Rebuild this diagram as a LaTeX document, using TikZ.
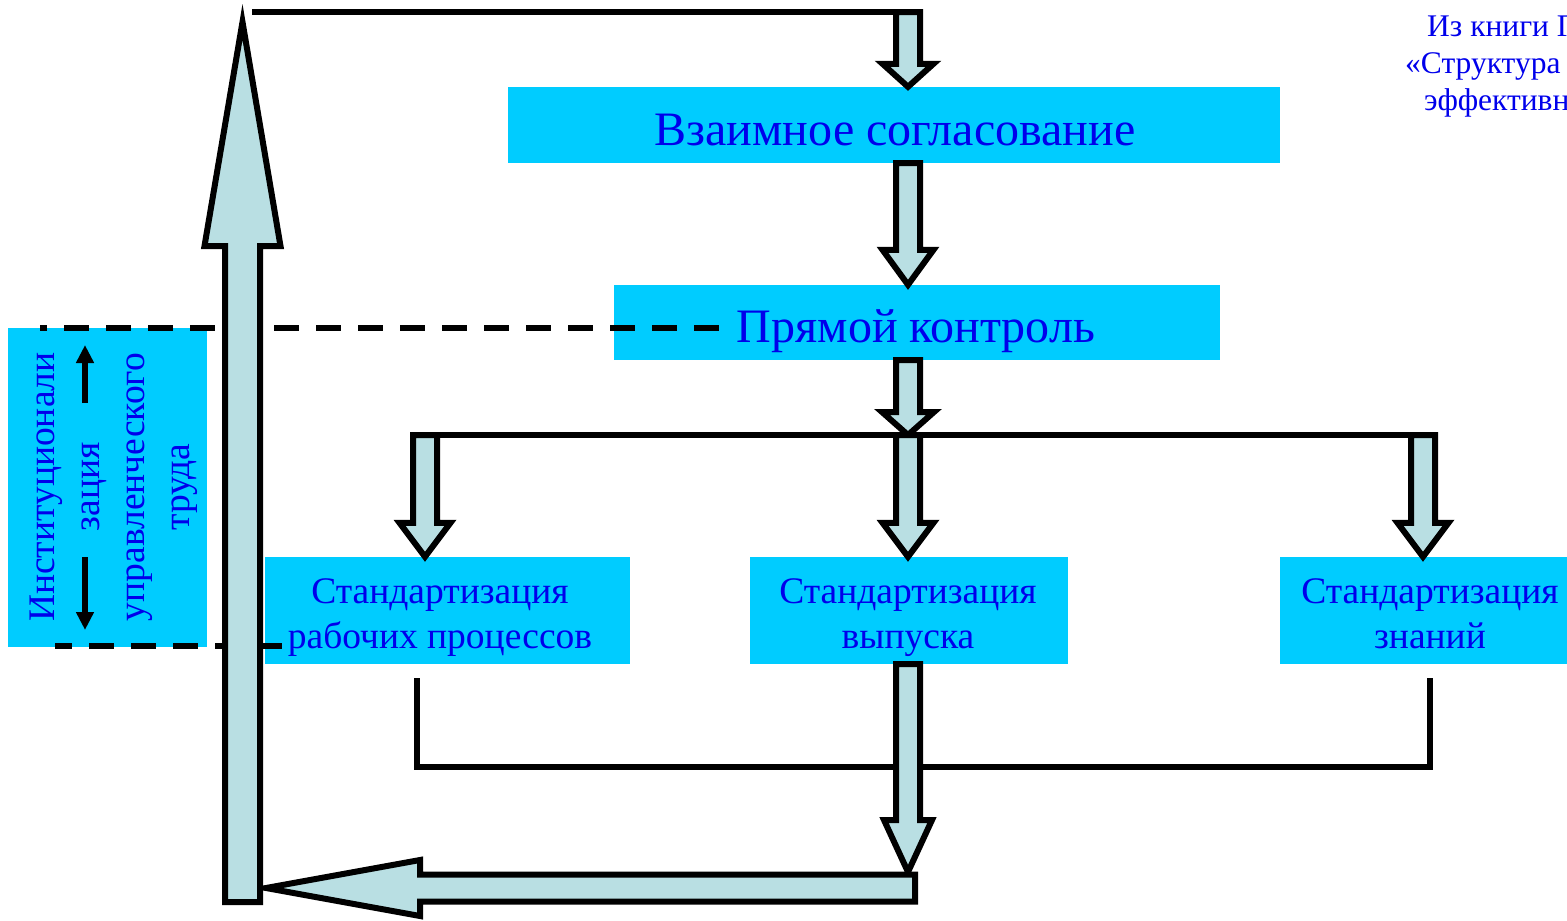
\documentclass[tikz,border=0pt]{standalone}
\usepackage{fontspec}
\setmainfont{Liberation Serif}
\usetikzlibrary{arrows.meta,calc}
\definecolor{boxcyan}{RGB}{0,204,255}
\definecolor{arrfill}{RGB}{185,223,227}
\definecolor{txtblue}{RGB}{0,0,235}
\tikzset{
  cbox/.style={rectangle, fill=boxcyan, inner sep=0pt},
  txt/.style={inner sep=0pt, text=txtblue, align=center, anchor=base},
  bigfont/.style={font=\fontsize{48}{56}\selectfont},
  midfont/.style={font=\fontsize{37.5}{45}\selectfont},
  blockarrow/.style={draw=black, fill=arrfill, line width=6pt, line join=miter},
  bline/.style={line width=6pt},
  dline/.style={line width=5.5pt, dash pattern=on 25pt off 17pt},
  thinarrow/.style={line width=5.5pt, -{Triangle[length=18pt,width=17pt]}},
  srcfont/.style={anchor=base west, inner sep=0pt, text=txtblue, font=\fontsize{31.5}{37}\selectfont},
}
% #1 start, #2 tip, #3 head length, #4 shaft half width, #5 head half width
\newcommand\blockdown[5]{%
  \draw[blockarrow] let \p1=(#1), \p2=(#2) in
    (\x2-#4,\y1) -- (\x2-#4,\y2+#3) -- (\x2-#5,\y2+#3) -- (\x2,\y2)
    -- (\x2+#5,\y2+#3) -- (\x2+#4,\y2+#3) -- (\x2+#4,\y1) -- cycle;}
\newcommand\blockup[5]{%
  \draw[blockarrow] let \p1=(#1), \p2=(#2) in
    (\x2-#4,\y1) -- (\x2-#4,\y2-#3) -- (\x2-#5,\y2-#3) -- (\x2,\y2)
    -- (\x2+#5,\y2-#3) -- (\x2+#4,\y2-#3) -- (\x2+#4,\y1) -- cycle;}
\newcommand\blockleft[5]{%
  \draw[blockarrow] let \p1=(#1), \p2=(#2) in
    (\x1,\y2-#4) -- (\x2+#3,\y2-#4) -- (\x2+#3,\y2-#5) -- (\x2,\y2)
    -- (\x2+#3,\y2+#5) -- (\x2+#3,\y2+#4) -- (\x1,\y2+#4) -- cycle;}
\begin{document}
\begin{tikzpicture}[x=1pt,y=-1pt]
\useasboundingbox (0,0) rectangle (1567,921);

% boxes
\node[cbox, minimum width=772pt, minimum height=76pt] (b1) at (894,125) {};
\node[cbox, minimum width=606pt, minimum height=75pt] (b2) at (917,322.5) {};
\node[cbox, minimum width=365pt, minimum height=107pt] (b3) at (447.5,610.5) {};
\node[cbox, minimum width=318pt, minimum height=107pt] (b4) at (909,610.5) {};
\node[cbox, minimum width=300pt, minimum height=107pt] (b5) at (1430,610.5) {};
\node[cbox, minimum width=199pt, minimum height=319pt] (lb) at (107.5,487.5) {};

% box texts
\node[txt, bigfont] (t1) at (895,145) {Взаимное согласование};
\node[txt, bigfont] (t2) at (916,342) {Прямой контроль};
\node[txt, midfont] (t3) at (440,648) {Стандартизация\\рабочих процессов};
\node[txt, midfont] (t4) at (908,648) {Стандартизация\\выпуска};
\node[txt, midfont] (t5) at (1430,648) {Стандартизация\\знаний};
\node[rotate=90, align=center, text=txtblue, midfont] (lbt) at (114,487) {Институционали\\зация\\управленческого\\труда};

% source note
\node[srcfont] (src1) at (1427,36) {Из книги Г};
\node[srcfont] (src2) at (1405,73) {«Структура};
\node[srcfont] (src3) at (1424,110) {эффективн};

% coordinates
\coordinate (cx) at (908,0);
\coordinate (tl) at (252,12);
\coordinate (tr) at (920,12);
\coordinate (bar) at (0,435);
\coordinate (bl) at (413,435);
\coordinate (br) at (1435,435);
\coordinate (c3) at (425,435);
\coordinate (c5) at (1423,435);
\coordinate (k1) at (417,678);
\coordinate (k2) at (1430,678);
\coordinate (kb) at (0,767);
\coordinate (ba) at (908,872);
\coordinate (hr) at (915,888);
\coordinate (ht) at (266,888);
\coordinate (vb) at (242.5,902);
\coordinate (vt) at (242.5,22);
\coordinate (d1a) at (40,328);
\coordinate (d1b) at (720,328);
\coordinate (d2a) at (55,646);
\coordinate (d2b) at (282,646);
\coordinate (u1) at (85,403);
\coordinate (u2) at (85,345);
\coordinate (w1) at (85,557);
\coordinate (w2) at (85,630);

% dashed level lines
\draw[dline, dash phase=18pt] (d1a) -- (d1b);
\draw[dline, dash phase=8pt] (d2a) -- (d2b);

% small arrows in left box
\draw[thinarrow] (u1) -- (u2);
\draw[thinarrow] (w1) -- (w2);

% plain lines
\draw[bline] (tl) -- (tr);
\draw[bline] (bl) -- (br);
\draw[bline] (k1) -- (k1 |- kb) -- (k2 |- kb) -- (k2);

% block arrows
\blockdown{tl -| cx}{b1.north -| cx}{23pt}{12pt}{25.5pt}
\blockdown{b1.south -| cx}{b2.north -| cx}{35pt}{12pt}{25.5pt}
\blockdown{b2.south -| cx}{bar -| cx}{23pt}{12pt}{26pt}
\blockdown{c3}{b3.north -| c3}{34pt}{12pt}{25.5pt}
\blockdown{bar -| cx}{b4.north -| cx}{34pt}{12pt}{25.5pt}
\blockdown{c5}{b5.north -| c5}{34pt}{12pt}{25.5pt}
\blockdown{b4.south -| cx}{ba}{52pt}{12pt}{24pt}
\blockleft{hr}{ht}{154pt}{13.5pt}{28pt}
\blockup{vb}{vt}{224pt}{17.5pt}{38pt}
\end{tikzpicture}
\end{document}
